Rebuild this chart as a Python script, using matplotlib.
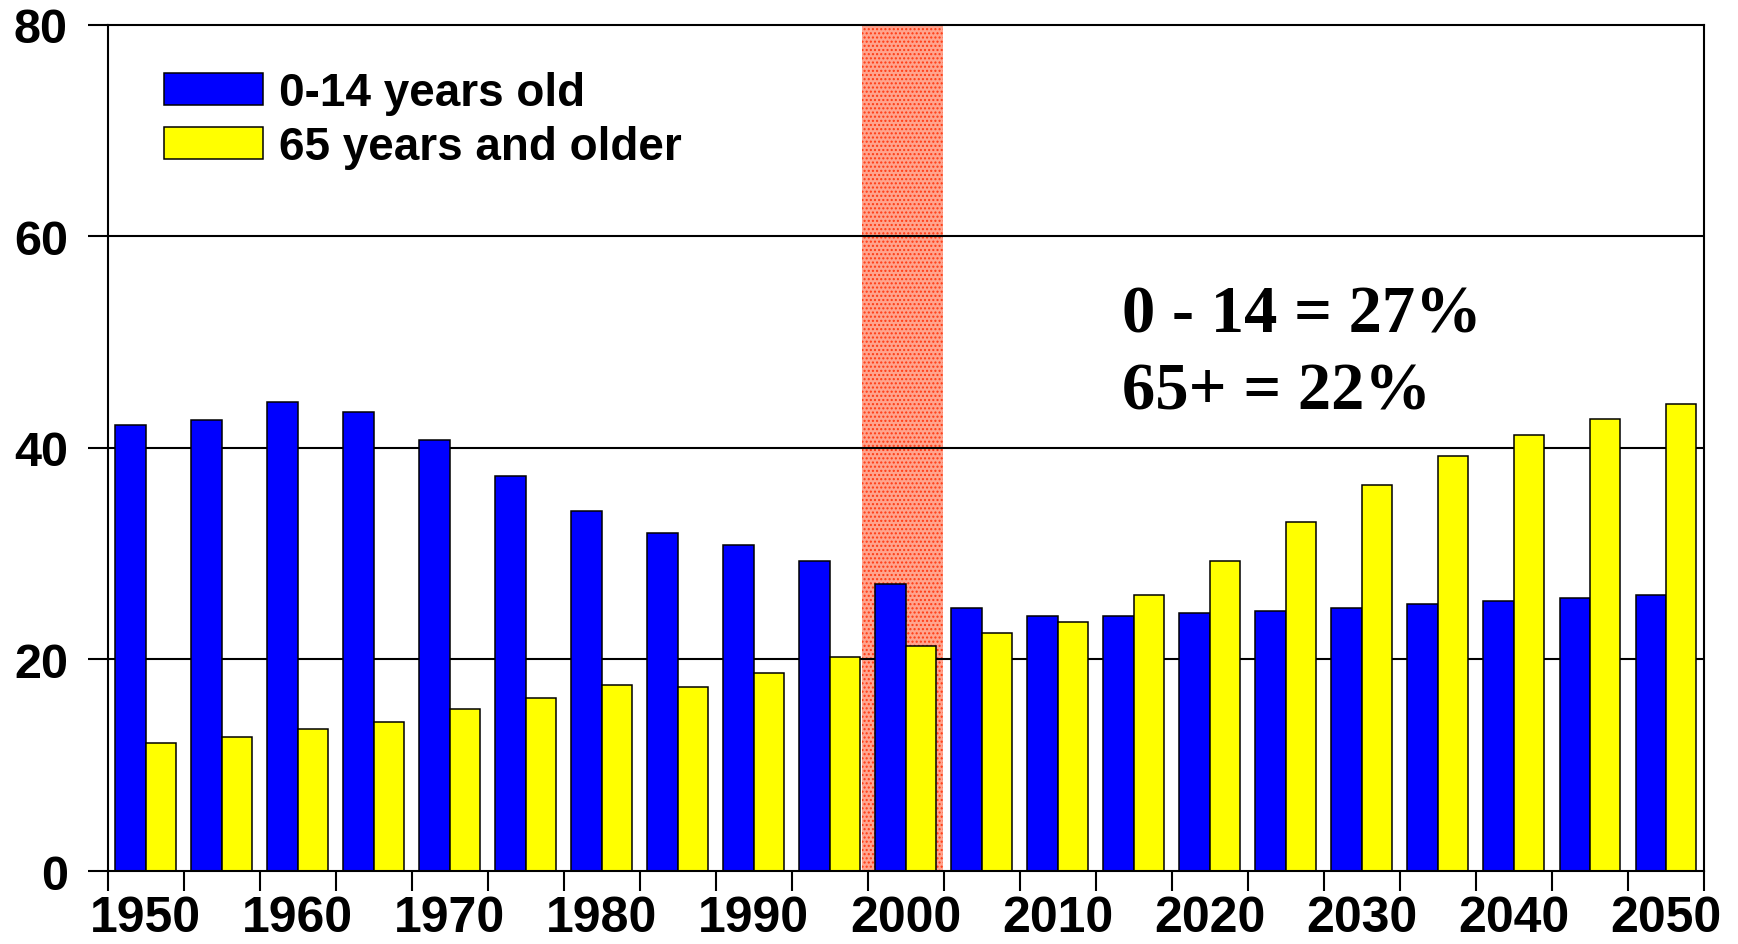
import matplotlib
matplotlib.use("Agg")
import matplotlib.pyplot as plt
import numpy as np

years = list(range(1950, 2051, 5))
young = [42.2, 42.6, 44.3, 43.4, 40.7, 37.3, 34.0, 31.9, 30.8, 29.3, 27.1,
         24.9, 24.1, 24.1, 24.4, 24.6, 24.9, 25.2, 25.5, 25.8, 26.1]
old = [12.1, 12.7, 13.4, 14.1, 15.3, 16.4, 17.6, 17.4, 18.7, 20.2, 21.3,
       22.5, 23.5, 26.1, 29.3, 33.0, 36.5, 39.2, 41.2, 42.7, 44.1]
series_labels = ["0-14 years old", "65 years and older"]
y_ticks = [0, 20, 40, 60, 80]
annotation = ["0 - 14 = 27%", "65+ = 22%"]

fig = plt.figure(figsize=(17.38, 9.45), dpi=100)
ax = fig.add_axes([0.0619, 0.0772, 0.9804 - 0.0619, 0.973 - 0.0772])

x = np.arange(len(years))
w = 0.4
# highlighted band around 2000
ax.axvspan(9.43, 10.49, facecolor="#ffa48e", edgecolor="#ff3a12", hatch="....",
           linewidth=0, zorder=0)
for yv in y_ticks[1:-1]:
    ax.axhline(yv, color="black", linewidth=1.5, zorder=1)

ax.bar(x - w / 2, young, width=w, color="#0000ff", edgecolor="black", linewidth=1.1,
       label=series_labels[0], zorder=2)
ax.bar(x + w / 2, old, width=w, color="#ffff00", edgecolor="black", linewidth=1.1,
       label=series_labels[1], zorder=2)

ax.set_xlim(-0.5, len(years) - 0.5)
ax.set_ylim(0, 80)

for s in ax.spines.values():
    s.set_linewidth(1.5)
    s.set_zorder(3)

ax.set_yticks(y_ticks)
ax.set_yticklabels([str(v) for v in y_ticks], fontfamily="Liberation Sans",
                   fontweight="bold", fontsize=35)
ax.tick_params(axis="y", direction="out", length=14.5, width=1.5, pad=14)

boundaries = np.arange(len(years) + 1) - 0.5
ax.set_xticks(boundaries)
ax.set_xticklabels([""] * len(boundaries))
ax.tick_params(axis="x", which="major", direction="out", length=14.5, width=1.5)
lab_pos = x[::2]
ax.set_xticks(lab_pos, minor=True)
ax.set_xticklabels([str(years[i]) for i in lab_pos], minor=True,
                   fontfamily="Liberation Sans", fontweight="bold", fontsize=36)
ax.tick_params(axis="x", which="minor", length=0, pad=17)

leg = ax.legend(loc="upper left", bbox_to_anchor=(0.024, 0.967), frameon=False,
                prop={"family": "Liberation Sans", "weight": "bold", "size": 33},
                handlelength=2.16, handleheight=0.7, handletextpad=0.35,
                labelspacing=0.22, borderaxespad=0)

ax.text(12.85, 51.0, annotation[0], fontfamily="Liberation Serif", fontweight="bold",
        fontsize=48, va="baseline", ha="left", zorder=4)
ax.text(12.85, 43.7, annotation[1], fontfamily="Liberation Serif", fontweight="bold",
        fontsize=48, va="baseline", ha="left", zorder=4)

fig.savefig("out.png", dpi=100)
